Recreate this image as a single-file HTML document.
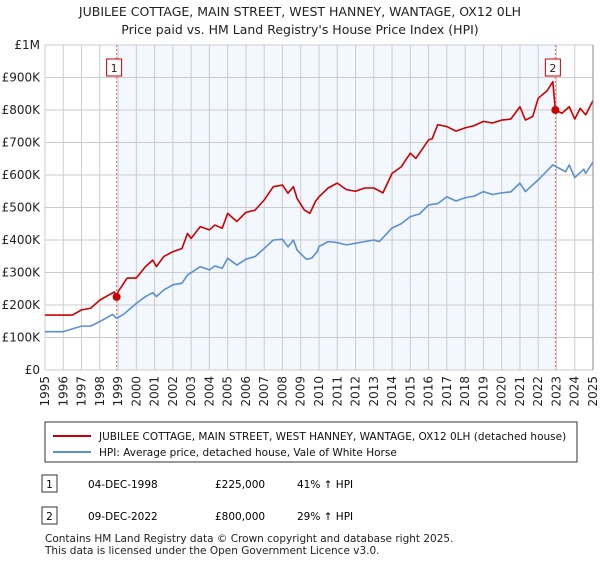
<!DOCTYPE html>
<html><head><meta charset="utf-8"><style>
body{margin:0;background:#fff;font-family:"Liberation Sans","DejaVu Sans",sans-serif;}
svg text{font-family:"DejaVu Sans","Liberation Sans",sans-serif;}
</style></head><body>
<svg width="600" height="560" viewBox="0 0 600 560">
<text x="300" y="16" text-anchor="middle" font-size="12.5" fill="#222">JUBILEE COTTAGE, MAIN STREET, WEST HANNEY, WANTAGE, OX12 0LH</text>
<text x="300" y="34" text-anchor="middle" font-size="12.5" fill="#222">Price paid vs. HM Land Registry's House Price Index (HPI)</text>
<g id="plot"></g>
<rect x="45" y="422" width="532" height="40" fill="#fff" stroke="#333"/>
<line x1="53" y1="436" x2="91" y2="436" stroke="#cc0000" stroke-width="2"/>
<text x="99" y="440" font-size="10.5" fill="#111">JUBILEE COTTAGE, MAIN STREET, WEST HANNEY, WANTAGE, OX12 0LH (detached house)</text>
<line x1="53" y1="452" x2="91" y2="452" stroke="#5b8fd4" stroke-width="2"/>
<text x="99" y="456" font-size="10.5" fill="#111">HPI: Average price, detached house, Vale of White Horse</text>
<rect x="42" y="475" width="15" height="17" fill="#fff" stroke="#333"/>
<text x="49.5" y="488" text-anchor="middle" font-size="10.5">1</text>
<text x="88" y="488" font-size="10.5">04-DEC-1998</text>
<text x="215" y="488" font-size="10.5">£225,000</text>
<text x="297" y="488" font-size="10.5">41% ↑ HPI</text>
<rect x="42" y="507" width="15" height="17" fill="#fff" stroke="#333"/>
<text x="49.5" y="520" text-anchor="middle" font-size="10.5">2</text>
<text x="88" y="520" font-size="10.5">09-DEC-2022</text>
<text x="215" y="520" font-size="10.5">£800,000</text>
<text x="297" y="520" font-size="10.5">29% ↑ HPI</text>
<text x="45" y="542" font-size="10.5" fill="#222">Contains HM Land Registry data © Crown copyright and database right 2025.</text>
<text x="45" y="554" font-size="10.5" fill="#222">This data is licensed under the Open Government Licence v3.0.</text>
</svg>
<script>
const yTicks=[0,100,200,300,400,500,600,700,800,900,1000];
const yTickLabels=["£0","£100K","£200K","£300K","£400K","£500K","£600K","£700K","£800K","£900K","£1M"];
const xYears=[1995,1996,1997,1998,1999,2000,2001,2002,2003,2004,2005,2006,2007,2008,2009,2010,2011,2012,2013,2014,2015,2016,2017,2018,2019,2020,2021,2022,2023,2024,2025];
const redDates=[1995,1996.5,1997,1997.5,1998,1998.5,1998.8,1998.92,1999,1999.5,2000,2000.5,2000.9,2001.1,2001.5,2002,2002.5,2002.8,2003,2003.5,2004,2004.3,2004.7,2005,2005.5,2006,2006.5,2007,2007.5,2008,2008.3,2008.6,2008.8,2009.2,2009.5,2009.8,2010,2010.5,2011,2011.5,2012,2012.5,2013,2013.5,2014,2014.5,2015,2015.3,2016,2016.2,2016.5,2017,2017.5,2018,2018.5,2019,2019.5,2020,2020.5,2021,2021.3,2021.7,2022,2022.5,2022.8,2022.94,2023.3,2023.7,2024,2024.3,2024.6,2025];
const redValues=[169,169,185,190,215,231,240,225,241,283,283,318,338,318,349,364,374,420,405,441,431,446,436,482,457,485,492,523,564,569,544,564,528,492,482,518,533,560,575,555,550,560,560,545,605,625,667,651,708,712,755,749,735,745,752,765,760,769,772,810,769,780,836,860,887,800,790,810,772,805,785,829];
const hpiDates=[1995,1996,1997,1997.5,1998,1998.7,1998.92,1999.3,2000,2000.5,2000.9,2001.1,2001.5,2002,2002.5,2002.8,2003.5,2004,2004.3,2004.7,2005,2005.5,2006,2006.5,2007,2007.5,2008,2008.3,2008.6,2008.8,2009.3,2009.6,2009.9,2010,2010.5,2011,2011.5,2012,2012.5,2013,2013.3,2014,2014.5,2015,2015.5,2016,2016.5,2017,2017.5,2018,2018.5,2019,2019.5,2020,2020.5,2021,2021.3,2022,2022.8,2023.5,2023.7,2024,2024.5,2024.6,2025];
const hpiValues=[118,118,135,135,149,171,159,171,205,226,238,226,246,262,267,292,318,308,320,313,344,323,341,349,374,400,402,379,400,369,341,344,364,380,395,392,385,390,395,400,395,437,450,472,480,508,512,533,520,530,535,549,540,545,548,575,549,585,631,610,631,592,618,605,640];
const sales=[[1998.92,225],[2022.94,800]];
const ns="http://www.w3.org/2000/svg";
const X0=45,X1=593,Y0=370,Y1=45;
const xs=t=>X0+(t-1995)/(2025-1995)*(X1-X0);
const ys=v=>Y0-v/1000*(Y0-Y1);
const g=document.getElementById('plot');
function mk(tag,at){const e=document.createElementNS(ns,tag);for(const k in at)e.setAttribute(k,at[k]);g.appendChild(e);return e;}
let e=mk('rect',{x:xs(sales[0][0]),y:Y1,width:xs(sales[1][0])-xs(sales[0][0]),height:Y0-Y1,fill:'#eef3fd',opacity:0.7});


yTicks.forEach((v,i)=>{
 let l=mk('line',{x1:X0,x2:X1,y1:ys(v),y2:ys(v),stroke:'#cccccc'});
 
 
 let t=mk('text',{x:X0-5,y:ys(v)+4,'text-anchor':'end','font-size':'12',fill:'#222'});t.textContent=yTickLabels[i];
 
 
});
xYears.forEach(yr=>{
 let l=mk('line',{x1:xs(yr),x2:xs(yr),y1:Y1,y2:Y0,stroke:'#cccccc'});
 
 
 let t=mk('text',{x:0,y:0,'font-size':'12',fill:'#222','text-anchor':'end',transform:`translate(${xs(yr)+4},${Y0+6}) rotate(-90)`});t.textContent=yr;
 
 
});
sales.forEach((s,i)=>{
 let l=mk('line',{x1:xs(s[0]),x2:xs(s[0]),y1:Y1,y2:Y0,stroke:'#e06666','stroke-dasharray':'2,2'});
 
 
 let r=mk('rect',{x:xs(s[0])-13-(i?-4:-4)-4,y:59,width:15,height:17,fill:'#fff',stroke:'#cc0000'});
 r.setAttribute('x',xs(s[0])-(i?10:10));
 
 
 let t=mk('text',{x:xs(s[0])-2.5,y:72,'text-anchor':'middle','font-size':'11',fill:'#222'});t.textContent=String(i+1);
 
 
});
function line(d,v,c,name){let p=mk('polyline',{points:d.map((t,i)=>xs(t)+','+ys(v[i])).join(' '),fill:'none',stroke:c,'stroke-width':1.6,'stroke-linejoin':'round'});
 
 }
line(hpiDates,hpiValues,'#5b8fd4','hpi-line');
line(redDates,redValues,'#cc0000','property-price-line');
sales.forEach(s=>{let c=mk('circle',{cx:xs(s[0]),cy:ys(s[1]),r:4,fill:'#cc0000'});
 
 });
let ax=mk('line',{x1:X1,x2:X1,y1:Y1,y2:Y0,stroke:'#888'});


</script>
</body></html>
